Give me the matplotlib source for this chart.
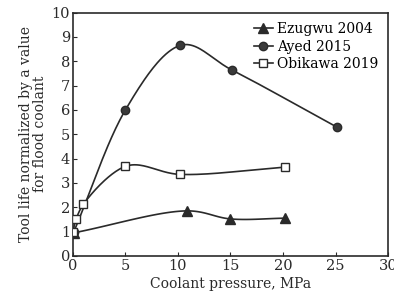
import matplotlib
matplotlib.use("Agg")
import matplotlib.pyplot as plt
import numpy as np

# данные
ezugwu_x = [0.1, 10.9, 15.0, 20.2]
ezugwu_y = [0.95, 1.85, 1.52, 1.55]

ayed_x = [0.1, 5.0, 10.2, 15.1, 25.1]
ayed_y = [1.0, 6.0, 8.65, 7.65, 5.3]

obikawa_x = [0.0, 0.3, 1.0, 5.0, 10.2, 20.2]
obikawa_y = [1.0, 1.5, 2.12, 3.68, 3.35, 3.65]

x_ticks = [0, 5, 10, 15, 20, 25, 30]
y_ticks = list(range(0, 11))


def smooth(xs, ys, n=40):
    # центростремительный Catmull-Rom, чтобы линия была плавной как в оригинале
    p = np.column_stack([xs, ys]).astype(float)
    p = np.vstack([2 * p[0] - p[1], p, 2 * p[-1] - p[-2]])
    out = []
    for i in range(1, len(p) - 2):
        p0, p1, p2, p3 = p[i - 1], p[i], p[i + 1], p[i + 2]
        t0 = 0.0
        t1 = t0 + np.linalg.norm(p1 - p0) ** 0.5 + 1e-9
        t2 = t1 + np.linalg.norm(p2 - p1) ** 0.5 + 1e-9
        t3 = t2 + np.linalg.norm(p3 - p2) ** 0.5 + 1e-9
        t = np.linspace(t1, t2, n)[:, None]
        a1 = (t1 - t) / (t1 - t0) * p0 + (t - t0) / (t1 - t0) * p1
        a2 = (t2 - t) / (t2 - t1) * p1 + (t - t1) / (t2 - t1) * p2
        a3 = (t3 - t) / (t3 - t2) * p2 + (t - t2) / (t3 - t2) * p3
        b1 = (t2 - t) / (t2 - t0) * a1 + (t - t0) / (t2 - t0) * a2
        b2 = (t3 - t) / (t3 - t1) * a2 + (t - t1) / (t3 - t1) * a3
        c = (t2 - t) / (t2 - t1) * b1 + (t - t1) / (t2 - t1) * b2
        out.append(c)
    c = np.vstack(out)
    return c[:, 0], c[:, 1]


plt.rcParams["font.family"] = ["DejaVu Serif"]

fig = plt.figure(figsize=(3.94, 3.0), dpi=100)
ax = fig.add_axes([0.185, 0.147, 0.8, 0.811])

col = "#2a2a2a"
series = [
    ("Ezugwu 2004", ezugwu_x, ezugwu_y, "^", col, 7),
    ("Ayed 2015", ayed_x, ayed_y, "o", "#3a3a3a", 6),
    ("Obikawa 2019", obikawa_x, obikawa_y, "s", "white", 6),
]

handles = []
for name, xs, ys, mk, fc, ms in series:
    sx, sy = smooth(xs, ys)
    ax.plot(sx, sy, color=col, lw=1.2, zorder=2)
    ax.plot(xs, ys, ls="none", marker=mk, ms=ms, mfc=fc, mec=col, mew=1.0, zorder=3)
    h, = ax.plot([], [], color=col, lw=1.2, marker=mk, ms=ms, mfc=fc, mec=col, mew=1.0)
    handles.append(h)

ax.set_xlim(0, 30)
ax.set_ylim(0, 10)
ax.set_xticks(x_ticks)
ax.set_yticks(y_ticks)
ax.tick_params(direction="in", length=3, labelsize=10.5, colors=col, pad=2)
for s in ax.spines.values():
    s.set_linewidth(1.2)
    s.set_color(col)

ax.set_xlabel("Coolant pressure, MPa", fontsize=10, color=col, labelpad=3)
ax.set_ylabel("Tool life normalized by a value\nfor flood coolant", fontsize=10,
              color=col, linespacing=1.0, labelpad=3)

ax.legend(handles, [s[0] for s in series], loc="upper right", frameon=False,
          fontsize=10, handlelength=1.4, handletextpad=0.3, labelspacing=0.25,
          borderaxespad=0.3)

fig.savefig("out.png", dpi=100)
